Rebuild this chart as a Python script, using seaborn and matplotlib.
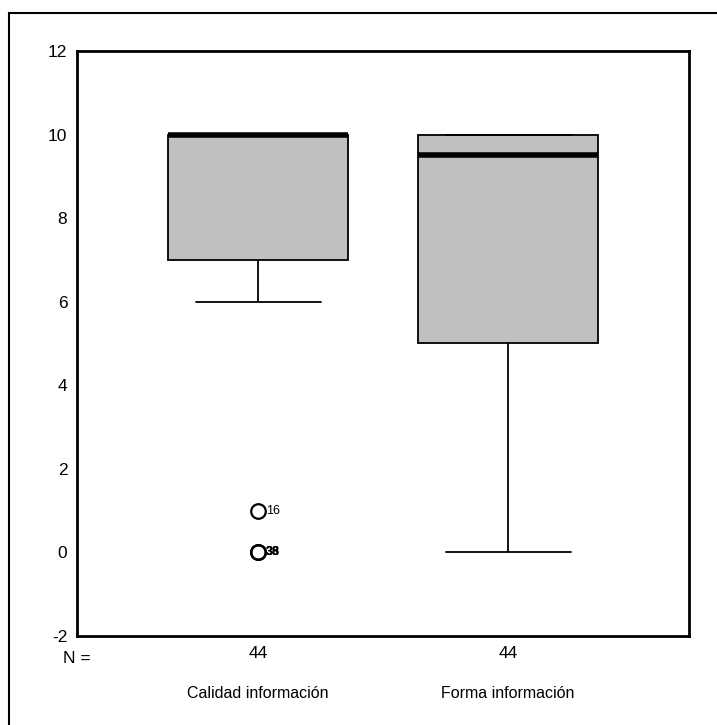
import numpy as np
import pandas as pd
import matplotlib
matplotlib.use("Agg")
import matplotlib.pyplot as plt
import seaborn as sns
from matplotlib.patches import Rectangle

# values (value -> number of cases), n = 44 each
categories = ["Calidad información", "Forma información"]
calidad_values = [0, 1, 6, 7, 8, 9, 10]
calidad_counts = [3, 1, 2, 6, 4, 5, 23]
forma_values = [0, 1, 2, 3, 4, 5, 6, 7, 8, 9, 10]
forma_counts = [2, 1, 2, 2, 2, 3, 2, 3, 2, 3, 22]

# case labels shown next to the outliers of the first box
outlier_values = [1, 0, 0, 0]
outlier_cases = ["16", "33", "38", "36"]

y_ticks = [-2, 0, 2, 4, 6, 8, 10, 12]

df = pd.DataFrame({
    "variable": [categories[0]] * sum(calidad_counts) + [categories[1]] * sum(forma_counts),
    "value": np.concatenate([np.repeat(calidad_values, calidad_counts),
                             np.repeat(forma_values, forma_counts)]),
})

sns.set_theme(style="white")
plt.rcParams["font.family"] = ["Liberation Sans", "DejaVu Sans"]
plt.rcParams["text.color"] = "black"
plt.rcParams["xtick.color"] = "black"
plt.rcParams["ytick.color"] = "black"
plt.rcParams["axes.labelcolor"] = "black"

fig = plt.figure(figsize=(7.17, 7.25), dpi=100)
ax = fig.add_axes([0.1074, 0.1228, 0.8536, 0.8069])

sns.boxplot(
    data=df, x="variable", y="value", order=categories, ax=ax,
    color="#c0c0c0", saturation=1, width=0.72, whis=1.5,
    linecolor="black", linewidth=1.3,
    medianprops=dict(linewidth=4, color="black"),
    flierprops=dict(marker="o", markersize=10.5, markerfacecolor="none",
                    markeredgecolor="black", markeredgewidth=1.6),
    capwidths=0.5,
)

for v, lab in zip(outlier_values, outlier_cases):
    ax.text(0.032, v, lab, fontsize=9, va="center", ha="left",
            fontweight="bold" if v == 0 else "normal")

ax.set_xlim(-0.724, 1.724)
ax.set_ylim(-2, 12)
ax.set_yticks(y_ticks)
ax.set_yticklabels([str(t) for t in y_ticks], fontsize=12.5)
ax.set_xticks(range(len(categories)))
ax.set_xticklabels([str(sum(calidad_counts)), str(sum(forma_counts))], fontsize=12.5)
ax.set_xlabel("")
ax.set_ylabel("")
ax.tick_params(axis="both", direction="out", length=3, width=3, color="black",
               labelcolor="black", pad=4)

for sp in ax.spines.values():
    sp.set_color("black")
    sp.set_linewidth(2)

trans = ax.get_xaxis_transform()
for i, name in enumerate(categories):
    ax.text(i, -0.099, name, transform=trans, ha="center", va="center", fontsize=11.5)
ax.text(0.0, -0.038, "N =", transform=ax.transAxes, ha="center", va="center", fontsize=12.5)

# outer frame of the output
fig.patches.append(Rectangle((9 / 717, -0.05), 1.2, 1 - 13 / 725 + 0.05,
                             transform=fig.transFigure, fill=False,
                             edgecolor="black", linewidth=1.5))

fig.savefig("out.png", dpi=100)
